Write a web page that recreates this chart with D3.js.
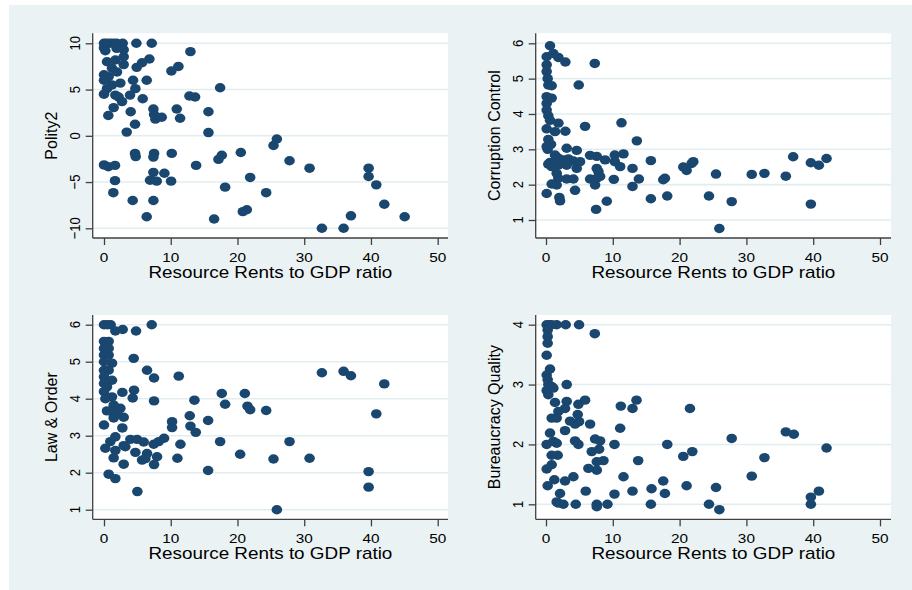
<!DOCTYPE html>
<html>
<head>
<meta charset="utf-8">
<script src="https://cdn.jsdelivr.net/npm/d3@7"></script>
<style>
  html, body { margin: 0; padding: 0; background: #ffffff; }
  svg { display: block; }
</style>
</head>
<body>
<svg id="chart" width="912" height="590"></svg>
<script>
// Shared x-axis: resource rents as a share of GDP
const xTitle = "Resource Rents to GDP ratio";
const xTicks = [0, 10, 20, 30, 40, 50];

// Polity2 score vs resource rents [rents, score]
const polityPoints = [
  [0,10],[0.4,10],[0.9,10],[1.4,10],[1.9,10],[2.8,10],[4.85,10],[7.15,10],
  [0,9.5],[0.2,9.2],[1.9,9.45],[2.95,9.3],[12.95,9.1],
  [2.95,8.55],[0.45,8.0],[1.7,8.2],[6.8,8.3],[2.95,7.7],[1.2,7.3],[5.7,7.9],[4.9,7.4],[10.1,7.0],[11.15,7.5],
  [0,6.6],[0.7,6.4],[1.95,6.9],[0,6.0],[4.35,6.0],[6.4,6.0],[2.45,5.7],[1.2,5.5],[0.45,5.1],[4.7,5.1],[17.4,5.2],
  [0,4.5],[1.7,4.4],[2.2,4.2],[3.9,4.4],[5.8,4.0],[2.7,3.7],[12.8,4.3],[13.65,4.2],
  [1.45,3.05],[0.65,2.2],[4.0,2.6],[7.4,2.9],[7.5,2.3],[7.7,1.8],[8.65,2.0],[10.9,2.9],[11.4,1.9],[15.65,2.6],[4.65,1.25],[3.4,0.4],[15.65,0.35],
  [25.9,-0.35],[25.4,-1.05],[20.5,-1.8],[17.65,-2.1],[17.15,-2.55],[10.15,-1.9],[7.5,-1.9],[7.4,-2.3],[4.65,-1.9],[4.75,-2.25],
  [0,-3.15],[0.65,-3.35],[1.65,-3.2],[13.8,-3.2],[27.8,-2.7],[30.8,-3.5],[39.65,-3.5],[39.65,-4.4],[40.8,-5.3],[42,-7.4],[45.05,-8.75],
  [37,-8.65],[35.9,-10],[32.65,-10],[21.4,-8.0],[20.8,-8.2],[24.3,-6.15],[21.9,-4.5],[18.15,-5.55],[16.5,-9.0],[6.4,-8.75],
  [7.4,-7.0],[4.3,-7.0],[1.4,-6.15],[1.65,-4.85],[7.4,-3.95],[6.9,-4.8],[7.9,-4.9],[9.05,-4.05],[10.05,-4.9]
];
const polityTicks = [-10, -5, 0, 5, 10];

// Corruption control vs resource rents
const corruptionPoints = [
  [0.6,5.93],[0.1,5.62],[1.1,5.71],[1.85,5.6],[2.9,5.47],[7.3,5.43],
  [0.1,5.39],[0.1,5.2],[0.25,5.0],[0.35,4.82],[0.85,4.8],[4.9,4.82],
  [0.1,4.49],[0.1,4.3],[0.1,4.11],[0.35,3.95],[0.85,4.45],[0.6,3.82],[1.85,3.74],[2.9,3.51],[1.35,3.5],[0.1,3.58],[5.85,3.65],[11.3,3.75],[13.6,3.24],
  [0.35,3.28],[0.75,3.14],[0.25,3.0],[0.1,3.08],[3.1,3.03],[4.6,2.97],
  [0.6,2.63],[0.35,2.58],[1.35,2.84],[1.85,2.75],[2.6,2.7],[3.35,2.73],[4.1,2.67],[5.1,2.65],[6.6,2.83],[7.6,2.8],[8.85,2.7],[10.3,2.84],[11.6,2.87],[10.3,2.65],[11.1,2.51],
  [0.85,2.51],[1.85,2.55],[3.1,2.55],[4.6,2.46],[7.6,2.46],[7.85,2.37],
  [1.6,2.32],[1.85,2.18],[3.1,2.16],[4.1,2.16],[6.6,2.16],[7.6,2.18],[8.1,2.23],
  [0.85,2.02],[1.6,1.99],[4.35,1.84],[7.35,1.99],
  [0.1,1.75],[2.0,1.64],[2.1,1.54],[9.1,1.53],[7.5,1.3],
  [10.15,2.15],[12.95,2.46],[13.9,2.16],[12.95,1.95],[15.7,2.68],[15.7,1.6],[17.55,2.14],[17.8,2.18],[18.15,1.68],
  [20.55,2.5],[21.05,2.4],[21.8,2.6],[22.05,2.65],[25.45,2.3],[30.8,2.29],[32.7,2.32],[35.9,2.24],[37.0,2.79],
  [39.65,2.62],[40.85,2.55],[42.0,2.74],[39.65,1.45],[27.8,1.52],[25.95,0.76],[24.4,1.68]
];
const corruptionTicks = [1, 2, 3, 4, 5, 6];

// Law & order vs resource rents
const lawPoints = [
  [0,6],[0.5,6],[1.0,6],[1.7,5.83],[2.8,5.87],[4.8,5.83],[7.15,6],
  [0,5.55],[0.7,5.55],[0,5.36],[0.7,5.36],[0,5.18],[0.7,5.18],[0,5.0],[1.2,4.96],[0,4.77],[0.7,4.77],[0,4.59],[1.2,4.5],[0,4.41],[0.45,4.32],[0,4.19],
  [4.45,5.09],[6.45,4.77],[7.5,4.56],[11.2,4.61],[2.75,4.17],[4.5,4.23],[4.3,4.02],[7.5,3.94],
  [0.2,4.0],[1.2,4.05],[1.45,3.83],[2.45,3.74],[2.95,3.5],[0.45,3.67],[1.2,3.65],[1.95,3.6],[1.45,3.48],[0,3.29],[2.75,3.21],
  [1.7,2.97],[0.95,2.84],[0.2,2.66],[2.95,2.73],[3.95,2.9],[4.95,2.9],[5.95,2.83],[7.45,2.77],[8.2,2.84],[9.0,2.93],
  [1.7,2.6],[3.2,2.7],[4.7,2.55],[6.45,2.52],[7.95,2.43],[7.5,2.22],[1.45,2.4],[2.95,2.23],[5.7,2.34],[6.2,2.38],
  [0.7,1.96],[1.7,1.84],[5.0,1.49],
  [10.2,3.38],[10.2,3.22],[11.45,2.77],[11.0,2.39],[12.85,3.54],[12.95,3.26],[13.75,3.09],[13.55,3.96],[15.6,3.41],[15.6,2.06],
  [17.65,4.14],[18.15,3.85],[21.1,4.14],[21.5,3.8],[21.9,3.7],[24.3,3.68],[17.4,2.84],[20.4,2.5],[25.4,2.37],[25.9,1.0],
  [27.8,2.84],[30.8,2.39],[32.65,4.7],[35.9,4.74],[37.0,4.62],[42.0,4.4],[40.8,3.59],[39.65,2.03],[39.65,1.61]
];
const lawTicks = [1, 2, 3, 4, 5, 6];

// Bureaucracy quality vs resource rents
const bureaucracyPoints = [
  [0.1,4],[0.5,4],[0.85,4],[1.6,4],[2.95,4],[4.95,4],[7.3,3.85],
  [0.25,3.91],[0.25,3.8],[0.25,3.69],[0.1,3.49],[0.6,3.26],
  [0.1,3.16],[0.25,3.08],[0.35,3.0],[0.85,2.97],[0.1,2.9],[0.35,2.83],[1.1,2.94],[3.1,3.0],
  [1.35,2.7],[3.1,2.72],[2.85,2.6],[1.85,2.55],[1.6,2.44],[0.85,2.44],[5.85,2.74],
  [4.85,2.67],[4.75,2.5],[4.95,2.38],[4.35,2.34],[3.6,2.39],[6.6,2.34],[2.85,2.23],
  [0.6,2.19],[1.1,2.05],[1.6,2.02],[0.1,2.0],[4.35,2.06],[4.85,2.0],[7.35,2.09],[8.1,2.06],[7.95,1.92],[6.85,1.88],[10.25,2.0],
  [0.85,1.82],[1.75,1.82],[0.85,1.66],[0.1,1.59],[6.35,1.6],[7.6,1.57],[8.6,1.73],[7.6,1.71],[13.8,1.73],
  [1.25,1.41],[2.85,1.39],[4.1,1.46],[0.25,1.31],[5.95,1.22],[2.1,1.18],[1.6,1.04],[2.6,1.0],[1.85,1.02],[4.45,1.0],
  [7.6,1.0],[7.6,0.96],[9.2,1.0],[10.25,1.17],[11.6,1.46],[12.95,1.22],
  [15.7,1.0],[15.8,1.26],[17.55,1.39],[17.8,1.18],[18.15,2.0],[20.55,1.8],[21.9,1.88],[21.05,1.31],[21.55,2.6],
  [11.2,2.64],[12.95,2.6],[13.55,2.74],[11.1,2.27],
  [24.4,1.0],[25.45,1.28],[25.95,0.91],[27.8,2.1],[30.8,1.47],[32.7,1.78],[35.9,2.21],[37.1,2.17],[42.0,1.94],
  [40.85,1.22],[39.65,1.12],[39.65,1.0]
];
const bureaucracyTicks = [1, 2, 3, 4];

const svg = d3.select("#chart");
const FONT = "Liberation Sans, Arial, Helvetica, sans-serif";
const BG = "#eaf2f3";
const GRID = "#e3edf0";
const MARKER = "#1a476f";
const AXIS = "#404040";
const SX = 1.18; // horizontal text stretch

svg.append("rect").attr("x", 9).attr("y", 5).attr("width", 903).attr("height", 585).attr("fill", BG);

const panels = [
  { title: "Polity2", points: polityPoints, ticks: polityTicks, domain: [-10, 10],
    axisX: 92.7, right: 448, top: 33.3, bottom: 238, x0: 104, x50: 437.7, yLo: 228.3, yHi: 43.3 },
  { title: "Corruption Control", points: corruptionPoints, ticks: corruptionTicks, domain: [1, 6],
    axisX: 535.7, right: 891, top: 33.3, bottom: 238, x0: 546, x50: 880, yLo: 220, yHi: 43.3 },
  { title: "Law & Order", points: lawPoints, ticks: lawTicks, domain: [1, 6],
    axisX: 92.7, right: 448, top: 315, bottom: 519.3, x0: 104, x50: 437.7, yLo: 509.7, yHi: 324.7 },
  { title: "Bureaucracy Quality", points: bureaucracyPoints, ticks: bureaucracyTicks, domain: [1, 4],
    axisX: 535.7, right: 891, top: 315, bottom: 519.3, x0: 546, x50: 880, yLo: 504.3, yHi: 324.7 }
];

panels.forEach(p => {
  const x = d3.scaleLinear().domain([0, 50]).range([p.x0, p.x50]);
  const y = d3.scaleLinear().domain(p.domain).range([p.yLo, p.yHi]);
  const g = svg.append("g");

  // plot region
  g.append("rect")
    .attr("x", p.axisX).attr("y", p.top)
    .attr("width", p.right - p.axisX).attr("height", p.bottom - p.top)
    .attr("fill", "#ffffff");

  // horizontal grid lines
  g.selectAll("line.grid").data(p.ticks).join("line")
    .attr("class", "grid")
    .attr("x1", p.axisX).attr("x2", p.right)
    .attr("y1", d => y(d)).attr("y2", d => y(d))
    .attr("stroke", GRID).attr("stroke-width", 1.6);

  // markers
  g.selectAll("ellipse.pt").data(p.points).join("ellipse")
    .attr("class", "pt")
    .attr("cx", d => x(d[0])).attr("cy", d => y(d[1]))
    .attr("rx", 5.3).attr("ry", 4.7)
    .attr("fill", MARKER);

  // y axis: tick marks from d3.axisLeft, vertical labels placed in nested groups
  const ya = g.append("g").attr("transform", `translate(${p.axisX},0)`)
    .call(d3.axisLeft(y).tickValues(p.ticks).tickSize(7).tickFormat(""));
  ya.select(".domain").remove();
  ya.selectAll("line").attr("stroke", AXIS).attr("stroke-width", 1.3);
  const ylab = g.selectAll("g.ylab").data(p.ticks).join("g")
    .attr("class", "ylab")
    .attr("transform", d => `translate(${p.axisX - 12.5},${y(d)})`);
  ylab.append("g").attr("transform", `scale(${SX},1)`)
    .append("g").attr("transform", "rotate(-90)")
    .append("text")
    .attr("x", 0).attr("y", 0)
    .attr("text-anchor", "middle")
    .style("font-family", FONT).style("font-size", "13px").style("fill", "#000")
    .text(d => d3.format("d")(d));
  g.append("line")
    .attr("x1", p.axisX).attr("x2", p.axisX)
    .attr("y1", p.top).attr("y2", p.bottom)
    .attr("stroke", AXIS).attr("stroke-width", 1.3);

  // x axis
  const xa = g.append("g").attr("transform", `translate(0,${p.bottom})`)
    .call(d3.axisBottom(x).tickValues(xTicks).tickSize(7).tickFormat(""));
  xa.select(".domain").remove();
  xa.selectAll("line").attr("stroke", AXIS).attr("stroke-width", 1.3);
  g.selectAll("text.xlab").data(xTicks).join("text")
    .attr("class", "xlab")
    .attr("text-anchor", "middle")
    .style("font-family", FONT).style("font-size", "13px").style("fill", "#000")
    .attr("transform", d => `translate(${x(d)},${p.bottom + 23.8}) scale(${SX},1)`)
    .text(d => d3.format("d")(d));
  g.append("line")
    .attr("x1", p.axisX).attr("x2", p.right)
    .attr("y1", p.bottom).attr("y2", p.bottom)
    .attr("stroke", AXIS).attr("stroke-width", 1.3);

  // axis titles
  g.append("text")
    .attr("text-anchor", "middle")
    .style("font-family", FONT).style("font-size", "16px").style("fill", "#000")
    .attr("transform", `translate(${(p.axisX + p.right) / 2},${p.bottom + 39.5}) scale(${SX},1)`)
    .text(xTitle);
  g.append("text")
    .attr("text-anchor", "middle")
    .style("font-family", FONT).style("font-size", "16px").style("fill", "#000")
    .attr("transform", `translate(${p.axisX - 35.5},${(p.top + p.bottom) / 2}) rotate(-90)`)
    .text(p.title);
});
</script>
</body>
</html>
